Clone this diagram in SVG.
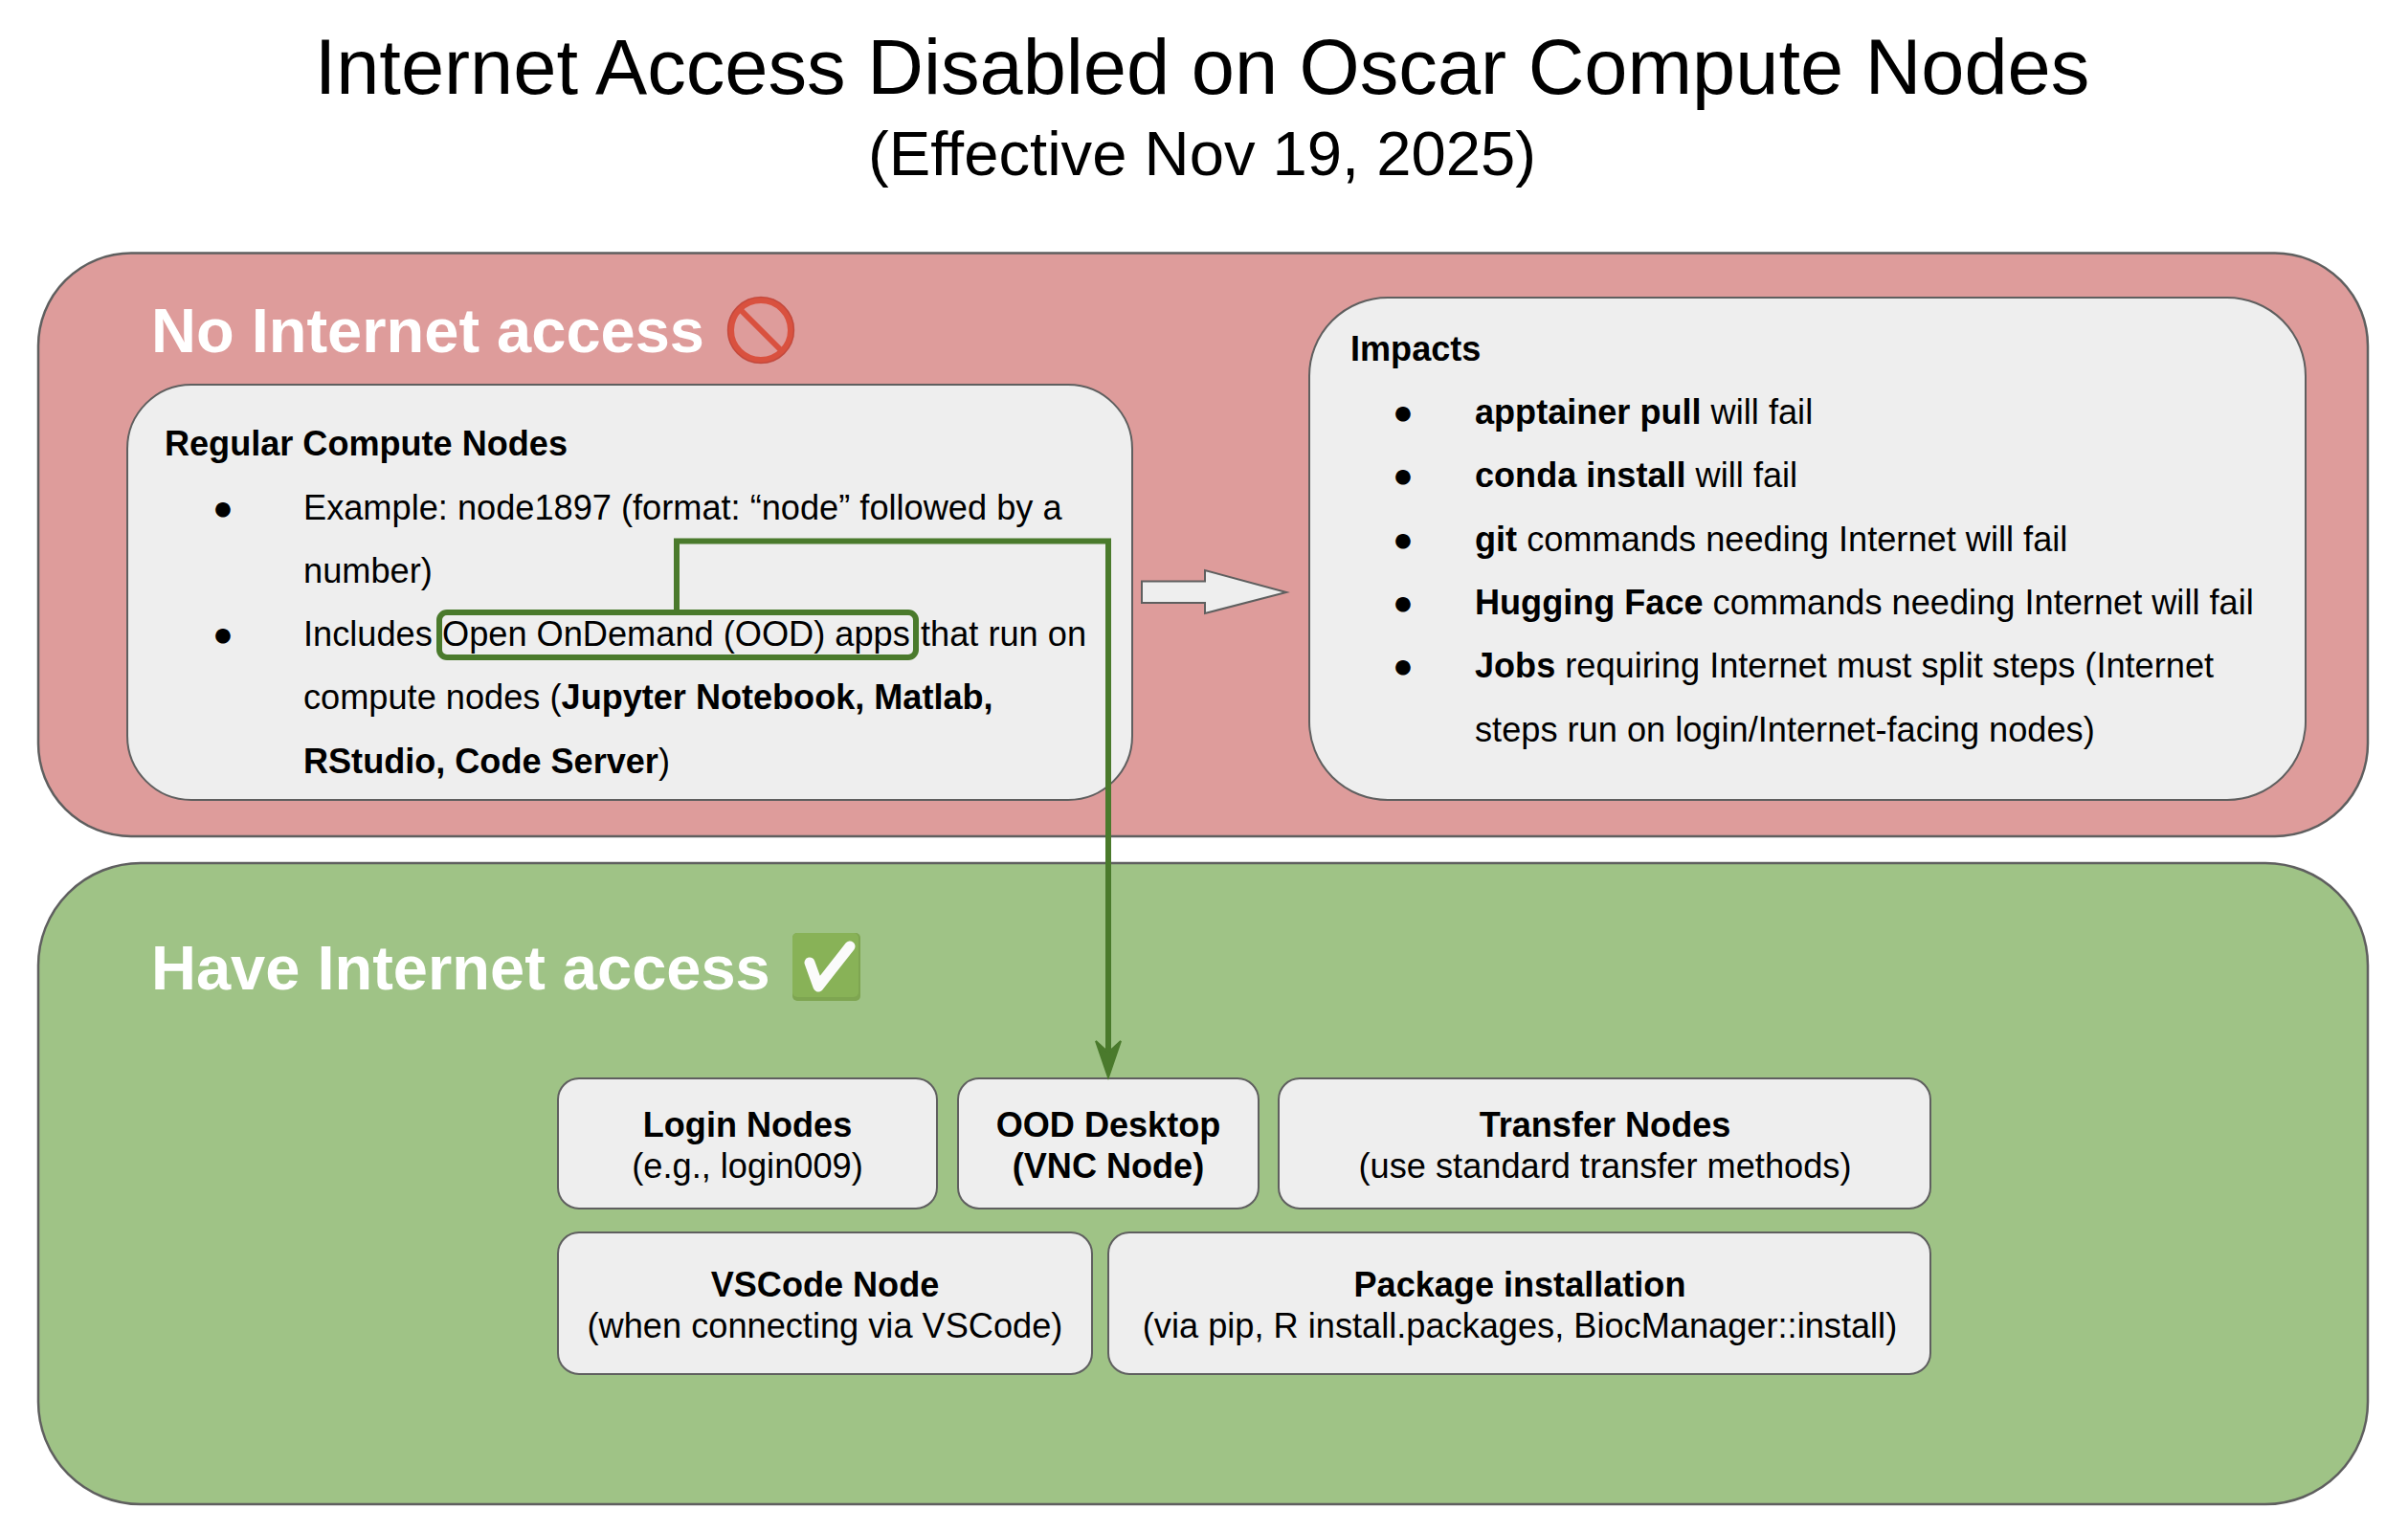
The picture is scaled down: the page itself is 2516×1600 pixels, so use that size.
<svg xmlns="http://www.w3.org/2000/svg" width="2516" height="1600" viewBox="0 0 2516 1600">
<style>
text{font-family:"Liberation Sans",Arial,Helvetica,sans-serif;fill:#000}
.t{font-size:36.200px}
.c{font-size:36.200px;text-anchor:middle}
.b{font-weight:700;font-size:36.100px}
.h{font-size:65px;font-weight:700;fill:#fff}
.box{fill:#eeeeee;stroke:#5f5f5f;stroke-width:2}
.g{fill:none;stroke:#4a7a2c;stroke-width:6}
</style>
<rect width="2516" height="1600" fill="#fff"/>
<g id="title">
<text x="1256" y="98" font-size="81.200" text-anchor="middle">Internet Access Disabled on Oscar Compute Nodes</text>
<text x="1256" y="183" font-size="65.200" text-anchor="middle">(Effective Nov 19, 2025)</text>
</g>
<g id="no-internet">
<rect x="40" y="264.500" width="2434" height="609.500" rx="97" ry="97" fill="#de9c9b" stroke="#5f5f5f" stroke-width="2.500"/>
<text class="h" x="158" y="368">No Internet access</text>
<circle cx="795" cy="345" r="31.500" fill="none" stroke="#d9513f" stroke-width="7"/>
<circle cx="795" cy="345" r="34.500" fill="none" stroke="#b5433a" stroke-width="1.500" opacity="0.6"/>
<line x1="774" y1="324" x2="816" y2="366" stroke="#d9513f" stroke-width="6"/>
</g>
<g id="have-internet">
<rect x="40" y="902" width="2434" height="670" rx="107" ry="107" fill="#9fc386" stroke="#5f5f5f" stroke-width="2.500"/>
<text class="h" x="158" y="1034">Have Internet access</text>
<rect x="828" y="975" width="71" height="71" rx="5" fill="#7ea551"/>
<rect x="828" y="975" width="69" height="67" rx="5" fill="#88b257"/>
<path d="M846 1006L855 1031L888 989" fill="none" stroke="#fbfbfb" stroke-width="11" stroke-linecap="round" stroke-linejoin="round"/>
</g>
<g id="regular-compute-nodes">
<rect class="box" x="133" y="402" width="1050" height="434" rx="67" ry="67"/>
<text class="t b" x="172" y="476">Regular Compute Nodes</text>
<text class="t" x="222" y="543">●</text>
<text class="t" x="317" y="543">Example: node1897 (format: “node” followed by a</text>
<text class="t" x="317" y="609">number)</text>
<text class="t" x="222" y="675">●</text>
<text class="t" x="317" y="675">Includes</text>
<text class="t" x="462" y="675">Open OnDemand (OOD) apps</text>
<text class="t" x="962" y="675">that run on</text>
<text class="t" x="317" y="741">compute nodes (<tspan class="b">Jupyter Notebook, Matlab,</tspan></text>
<text class="t" x="317" y="808"><tspan class="b">RStudio, Code Server</tspan>)</text>
</g>
<g id="impacts">
<rect class="box" x="1368" y="311" width="1041" height="525" rx="82" ry="82"/>
<text class="t b" x="1411" y="377">Impacts</text>
<text class="t" x="1455" y="443">●</text>
<text class="t" x="1541" y="443"><tspan class="b">apptainer pull</tspan> will fail</text>
<text class="t" x="1455" y="509">●</text>
<text class="t" x="1541" y="509"><tspan class="b">conda install</tspan> will fail</text>
<text class="t" x="1455" y="576">●</text>
<text class="t" x="1541" y="576"><tspan class="b">git</tspan> commands needing Internet will fail</text>
<text class="t" x="1455" y="642">●</text>
<text class="t" x="1541" y="642"><tspan class="b">Hugging Face</tspan> commands needing Internet will fail</text>
<text class="t" x="1455" y="708">●</text>
<text class="t" x="1541" y="708"><tspan class="b">Jobs</tspan> requiring Internet must split steps (Internet</text>
<text class="t" x="1541" y="775">steps run on login/Internet-facing nodes)</text>
</g>
<g id="login-nodes">
<rect class="box" x="583" y="1127" width="396" height="136" rx="22"/>
<text class="c b" x="781" y="1188">Login Nodes</text>
<text class="c" x="781" y="1231">(e.g., login009)</text>
</g>
<g id="ood-desktop">
<rect class="box" x="1001" y="1127" width="314" height="136" rx="22"/>
<text class="c b" x="1158" y="1188">OOD Desktop</text>
<text class="c b" x="1158" y="1231">(VNC Node)</text>
</g>
<g id="transfer-nodes">
<rect class="box" x="1336" y="1127" width="681" height="136" rx="22"/>
<text class="c b" x="1677" y="1188">Transfer Nodes</text>
<text class="c" x="1677" y="1231">(use standard transfer methods)</text>
</g>
<g id="vscode-node">
<rect class="box" x="583" y="1288" width="558" height="148" rx="22"/>
<text class="c b" x="862" y="1355">VSCode Node</text>
<text class="c" x="862" y="1398">(when connecting via VSCode)</text>
</g>
<g id="package-installation">
<rect class="box" x="1158" y="1288" width="859" height="148" rx="22"/>
<text class="c b" x="1588" y="1355">Package installation</text>
<text class="c" x="1588" y="1398">(via pip, R install.packages, BiocManager::install)</text>
</g>
<g id="connectors">
<path d="M1193 607.500H1259V596L1344 619L1259 641V630H1193Z" fill="#eeeeee" stroke="#5f5f5f" stroke-width="2"/>
<rect class="g" x="459" y="640" width="498" height="47" rx="8"/>
<path class="g" d="M707 640V565.500H1158V1100"/>
<path d="M1158 1126L1145 1088L1158 1100L1171 1088Z" fill="#4a7a2c" stroke="#4a7a2c" stroke-width="2"/>
</g>
</svg>
